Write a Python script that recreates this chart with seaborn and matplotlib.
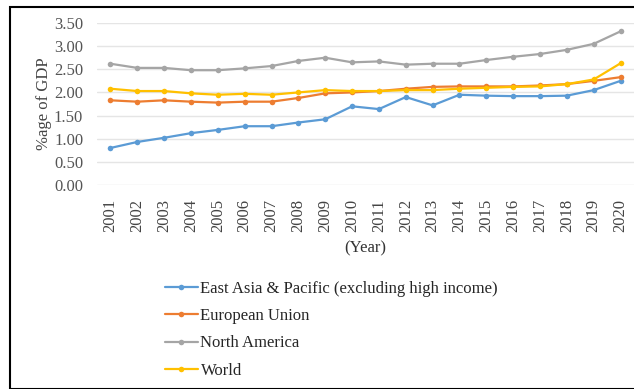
import matplotlib
matplotlib.use("Agg")
import matplotlib.pyplot as plt
import seaborn as sns
import pandas as pd
from matplotlib.patches import Rectangle

years = list(range(2001, 2021))
east_asia = [0.80, 0.93, 1.02, 1.12, 1.19, 1.27, 1.27, 1.35, 1.42, 1.70, 1.64, 1.90, 1.72, 1.95, 1.93, 1.92, 1.92, 1.93, 2.05, 2.25]
eu = [1.83, 1.80, 1.83, 1.80, 1.78, 1.80, 1.80, 1.88, 1.98, 2.00, 2.03, 2.08, 2.12, 2.13, 2.13, 2.13, 2.15, 2.18, 2.25, 2.33]
north_america = [2.62, 2.53, 2.53, 2.48, 2.48, 2.52, 2.57, 2.68, 2.75, 2.65, 2.67, 2.60, 2.62, 2.62, 2.70, 2.77, 2.83, 2.92, 3.05, 3.32]
world = [2.08, 2.03, 2.03, 1.98, 1.95, 1.97, 1.95, 2.00, 2.05, 2.03, 2.03, 2.05, 2.05, 2.08, 2.10, 2.12, 2.13, 2.18, 2.28, 2.63]
series_names = ["East Asia & Pacific (excluding high income)", "European Union", "North America", "World"]
colors = ["#5B9BD5", "#ED7D31", "#A5A5A5", "#FFC000"]
y_ticks = [0.0, 0.5, 1.0, 1.5, 2.0, 2.5, 3.0, 3.5]

rows = []
for name, vals in zip(series_names, [east_asia, eu, north_america, world]):
    for y, v in zip(years, vals):
        rows.append({"Year": y, "Value": v, "Series": name})
df = pd.DataFrame(rows)

sns.set_style("white")
plt.rcParams["font.family"] = ["Liberation Serif", "DejaVu Serif"]

fig = plt.figure(figsize=(6.34, 3.89), dpi=100)
ax = fig.add_axes([97/634, 1-185/389, (634-97)/634, (185-23)/389])

sns.lineplot(data=df, x="Year", y="Value", hue="Series", hue_order=series_names,
             palette=colors, marker="o", markersize=4, markeredgewidth=0,
             linewidth=1.6, ax=ax, legend=True)

ax.set_xlim(2000.5, 2020.5)
ax.set_ylim(0, 3.5)
ax.set_yticks(y_ticks)
ax.set_yticklabels([f"{t:.2f}" for t in y_ticks], fontsize=12, color="#555555")
ax.set_xticks(years)
ax.set_xticklabels([str(y) for y in years], rotation=90, fontsize=12, color="#444444")
ax.yaxis.grid(True, color="#E5E5E5", linewidth=1)
ax.xaxis.grid(False)
for s in ax.spines.values():
    s.set_visible(False)
ax.tick_params(axis="y", length=0, pad=10)
ax.tick_params(axis="x", length=0, pad=10)
ax.set_ylabel("%age of GDP", fontsize=12, color="#444444", labelpad=1)
ax.set_xlabel("(Year)", fontsize=12, color="#333333", labelpad=6)

handles, labels = ax.get_legend_handles_labels()
ax.get_legend().remove()
fig.legend(handles, labels, loc="upper left", bbox_to_anchor=(158/634, 1-274/389),
           frameon=False, fontsize=12, handlelength=2.0, handletextpad=0.15,
           labelspacing=0.68, borderaxespad=0)

fig.patches.append(Rectangle((10/634, 0), 1.0, 1-7/389, transform=fig.transFigure,
                             fill=False, edgecolor="black", linewidth=1.5))

fig.savefig("out.png", dpi=100)
